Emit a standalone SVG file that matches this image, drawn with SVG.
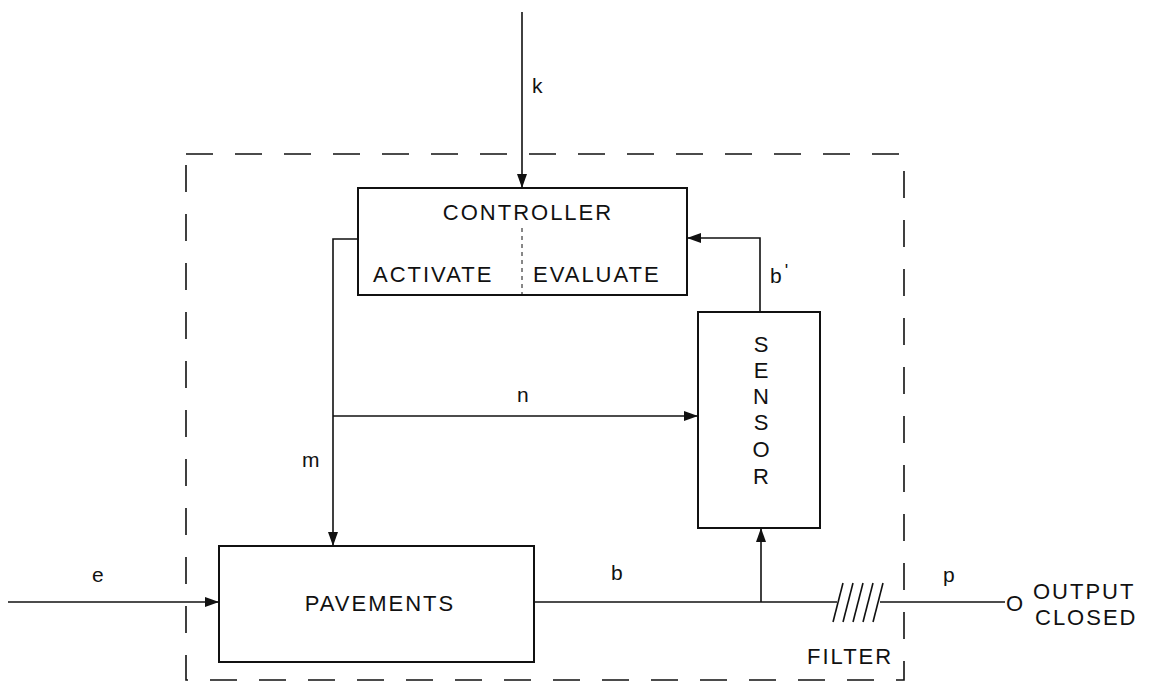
<svg xmlns="http://www.w3.org/2000/svg" width="1155" height="682" viewBox="0 0 1155 682">
<style>
.box{fill:none;stroke:#111;stroke-width:2}
.ln{fill:none;stroke:#111;stroke-width:1.6}
.bd{fill:none;stroke:#111;stroke-width:1.6;stroke-dasharray:27 22}
.t{font-family:"Liberation Sans","DejaVu Sans",sans-serif;fill:#111;font-size:22px;letter-spacing:2px}
.s{font-family:"Liberation Sans","DejaVu Sans",sans-serif;fill:#111;font-size:21px}
</style>
<defs>
<marker id="ah" viewBox="0 0 14 10" refX="14" refY="5" markerWidth="14" markerHeight="10" markerUnits="userSpaceOnUse" orient="auto">
<path d="M0,0 L14,5 L0,10 Z" fill="#111"/>
</marker>
</defs>
<rect fill="#fff" x="0" y="0" width="1155" height="682"/>
<g id="boundary">
<rect class="bd" x="186" y="154" width="718" height="526"/>
</g>
<g id="controller">
<rect class="box" x="358" y="188" width="329" height="107"/>
<line x1="522" y1="228" x2="522" y2="295" stroke="#111" stroke-width="1" stroke-dasharray="4 4"/>
<text class="t" x="528" y="220" text-anchor="middle" letter-spacing="2.5">CONTROLLER</text>
<text class="t" x="373" y="282" letter-spacing="0.8">ACTIVATE</text>
<text class="t" x="533" y="282" letter-spacing="1.8">EVALUATE</text>
</g>
<g id="sensor">
<rect class="box" x="698" y="312" width="122" height="216"/>
<g class="t" text-anchor="middle" letter-spacing="0">
<text x="762" y="352">S</text>
<text x="762" y="378">E</text>
<text x="762" y="404">N</text>
<text x="762" y="430">S</text>
<text x="762" y="457">O</text>
<text x="762" y="484">R</text>
</g>
</g>
<g id="pavements">
<rect class="box" x="219" y="546" width="315" height="116"/>
<text class="t" x="380" y="611" text-anchor="middle">PAVEMENTS</text>
</g>
<g id="filter">
<g class="ln" stroke-width="1.4">
<line x1="833" y1="622" x2="843" y2="583"/>
<line x1="843" y1="622" x2="853" y2="583"/>
<line x1="853" y1="622" x2="863" y2="583"/>
<line x1="863" y1="622" x2="873" y2="583"/>
<line x1="873" y1="622" x2="883" y2="583"/>
</g>
<text class="t" x="807" y="664">FILTER</text>
</g>
<g id="output">
<text class="t" x="1006" y="611" letter-spacing="0">O</text>
<text class="t" x="1033" y="599" font-size="21" letter-spacing="2.5">OUTPUT</text>
<text class="t" x="1035" y="625" font-size="21" letter-spacing="2">CLOSED</text>
</g>
<g id="connectors">
<path class="ln" d="M522,12 V188" marker-end="url(#ah)"/>
<path class="ln" d="M358,239 H333 V546" marker-end="url(#ah)"/>
<path class="ln" d="M333,416 H698" marker-end="url(#ah)"/>
<path class="ln" d="M760,312 V238 H687" marker-end="url(#ah)"/>
<path class="ln" d="M8,602 H219" marker-end="url(#ah)"/>
<path class="ln" d="M534,602 H837"/>
<path class="ln" d="M761,602 V528" marker-end="url(#ah)"/>
<path class="ln" d="M880,602 H1005"/>
</g>
<g id="labels">
<text class="s" x="532" y="93">k</text>
<text class="s" x="302" y="467">m</text>
<text class="s" x="517" y="402">n</text>
<text class="s" x="770" y="283">b<tspan dx="3" dy="-6" font-size="18">'</tspan></text>
<text class="s" x="92" y="582">e</text>
<text class="s" x="611" y="580">b</text>
<text class="s" x="943" y="582">p</text>
</g>
</svg>
